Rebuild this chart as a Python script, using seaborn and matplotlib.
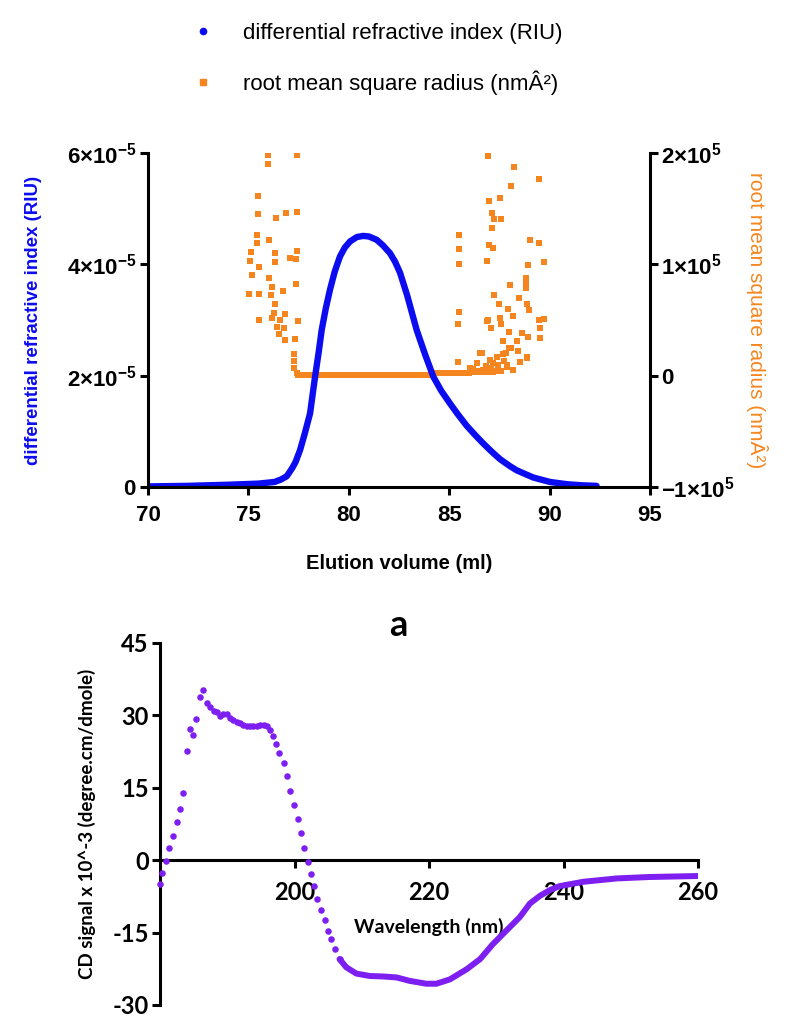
import numpy as np
import seaborn as sns
import matplotlib.pyplot as plt
from matplotlib.lines import Line2D

# panel a: SEC trace, refractive index (x1e-5 RIU)
ri_volume = [70.0, 72.0, 74.0, 75.5, 76.3, 76.6, 76.9, 77.0, 77.2, 77.35, 77.57, 77.8,
             78.07, 78.32, 78.5, 78.65, 78.85, 79.06, 79.3, 79.56, 79.8, 80.06, 80.4,
             80.72, 81.0, 81.39, 81.7, 82.05, 82.3, 82.55, 82.9, 83.38, 83.8, 84.21,
             84.6, 85.04, 85.4, 85.87, 86.3, 86.70, 87.1, 87.53, 88.0, 88.36, 88.8,
             89.19, 89.6, 90.02, 90.85, 91.6, 92.34]
ri_signal = [0.01, 0.02, 0.04, 0.06, 0.09, 0.13, 0.19, 0.24, 0.35, 0.45, 0.66, 0.95,
             1.32, 1.98, 2.42, 2.82, 3.2, 3.54, 3.87, 4.14, 4.3, 4.41, 4.49,
             4.51, 4.5, 4.44, 4.34, 4.20, 4.05, 3.85, 3.45, 2.82, 2.38, 1.98,
             1.73, 1.50, 1.32, 1.10, 0.93, 0.78, 0.64, 0.50, 0.38, 0.30, 0.23,
             0.17, 0.13, 0.09, 0.05, 0.03, 0.02]

# panel a: root mean square radius (x1e5 nm^2), scattered points + baseline
rms_volume = [75.96, 75.96, 77.44, 75.46, 75.49, 76.37, 76.87, 77.40, 75.45, 75.45, 76.04,
              75.11, 76.33, 77.40, 75.08, 75.54, 76.33, 77.07, 77.37, 75.16, 76.04, 76.19,
              75.05, 75.54, 76.11, 76.71, 77.37, 76.33, 76.25, 75.54, 76.16, 76.57, 76.82,
              77.45, 76.44, 76.78, 76.54, 76.82, 77.32, 77.27, 77.27, 77.27, 77.40,
              86.92, 88.23, 89.49, 88.06, 87.00, 87.53, 87.15, 87.25, 87.58, 87.15, 85.49,
              85.49, 85.49, 87.00, 87.16, 86.90, 89.02, 89.47, 89.72, 88.91, 88.81, 88.81,
              88.81, 88.03, 87.23, 88.46, 87.49, 88.86, 87.94, 88.19, 88.99, 85.50, 85.46,
              86.87, 87.53, 87.07, 87.58, 89.49, 89.72, 89.52, 89.52, 88.61, 88.94, 87.99,
              87.66, 88.39, 88.06, 87.83, 88.45, 88.89, 86.62, 88.53, 87.37, 87.03, 85.45,
              86.37, 87.86, 86.04, 86.70, 87.53, 86.53, 88.86, 87.70, 88.00, 86.95, 87.45,
              86.20, 86.85, 87.20, 87.75, 86.45, 87.10, 87.90, 88.20,
              77.45, 77.6, 77.8, 78.0, 78.2, 78.4, 78.6, 78.8, 79.0, 79.2, 79.4, 79.6,
              79.8, 80.0, 80.2, 80.4, 80.6, 80.8, 81.0, 81.2, 81.4, 81.6, 81.8, 82.0,
              82.2, 82.4, 82.6, 82.8, 83.0, 83.2, 83.4, 83.6, 83.8, 84.0, 84.2, 84.4,
              84.6, 84.8, 85.0, 85.2, 85.4, 85.6, 85.8, 86.0, 86.2, 86.4, 86.6, 86.8,
              87.0, 87.2, 87.4, 87.6]
rms_radius = [1.98, 1.90, 1.98, 1.61, 1.45, 1.42, 1.46, 1.47, 1.26, 1.19, 1.22,
              1.11, 1.10, 1.12, 1.03, 0.98, 1.02, 1.06, 1.05, 0.90, 0.88, 0.80,
              0.73, 0.73, 0.72, 0.76, 0.82, 0.64, 0.56, 0.50, 0.52, 0.50, 0.55,
              0.49, 0.44, 0.43, 0.37, 0.32, 0.33, 0.19, 0.13, 0.07, 0.02,
              1.97, 1.87, 1.77, 1.70, 1.57, 1.60, 1.46, 1.41, 1.41, 1.33, 1.26,
              1.14, 1.00, 1.17, 1.15, 1.03, 1.22, 1.19, 1.02, 0.99, 0.88, 0.83,
              0.79, 0.81, 0.72, 0.70, 0.64, 0.64, 0.60, 0.54, 0.59, 0.57, 0.46,
              0.49, 0.52, 0.43, 0.46, 0.50, 0.51, 0.43, 0.34, 0.38, 0.35, 0.39,
              0.31, 0.31, 0.25, 0.20, 0.22, 0.16, 0.20, 0.12, 0.17, 0.14, 0.12,
              0.11, 0.08, 0.07, 0.05, 0.04, 0.20, 0.17, 0.19, 0.25, 0.50, 0.10,
              0.06, 0.09, 0.11, 0.13, 0.04, 0.07, 0.10, 0.05,
              0.01, 0.01, 0.01, 0.01, 0.01, 0.01, 0.01, 0.01, 0.01, 0.01, 0.01, 0.01,
              0.01, 0.01, 0.01, 0.01, 0.01, 0.01, 0.01, 0.01, 0.01, 0.01, 0.01, 0.01,
              0.01, 0.01, 0.01, 0.01, 0.01, 0.01, 0.01, 0.01, 0.01, 0.01, 0.01, 0.02,
              0.02, 0.02, 0.02, 0.02, 0.02, 0.02, 0.02, 0.02, 0.03, 0.03, 0.03, 0.03,
              0.03, 0.03, 0.04, 0.04]

# panel b: CD spectrum, dotted part and dense part (x1e-3 deg cm2/dmol)
cd_dot_nm = [180.0, 180.3, 180.9, 181.4, 181.9, 182.5, 182.9, 183.4, 184.0, 184.5, 184.9,
             185.3, 185.9, 186.4, 187.0, 187.5, 188.0, 188.5, 188.9, 189.4, 189.9, 190.4,
             190.9, 191.4, 191.9, 192.4, 192.9, 193.4, 193.9, 194.4, 194.9, 195.4, 195.9,
             196.3, 196.8, 197.3, 197.7, 198.4, 198.9, 199.4, 199.9, 200.5, 201.0, 201.4,
             202.0, 202.4, 202.9, 203.4, 203.9, 204.5, 205.0, 205.5, 206.0, 206.7]
cd_dot_signal = [-4.9, -2.6, -0.2, 2.4, 5.0, 7.8, 10.6, 13.8, 22.6, 27.2, 25.8,
                 29.3, 33.7, 35.2, 32.6, 31.6, 30.9, 30.6, 29.9, 30.2, 30.2, 29.5,
                 29.0, 28.6, 28.3, 27.9, 27.8, 27.8, 27.8, 27.8, 27.9, 27.9, 27.7,
                 26.9, 25.7, 24.0, 22.2, 20.1, 17.4, 14.4, 11.5, 8.5, 5.6, 2.6,
                 -0.35, -2.8, -5.4, -8.0, -10.4, -12.5, -14.6, -16.3, -18.4, -20.5]
cd_line_nm = [206.7, 207.7, 209.2, 211.2, 213.2, 215.2, 217.1, 219.6, 221.1, 223.1, 225.6,
              227.6, 229.5, 231.5, 233.5, 235.0, 236.5, 238.0, 239.4, 242.9, 247.9, 252.8, 260.0]
cd_line_signal = [-20.5, -22.2, -23.5, -24.0, -24.1, -24.3, -25.0, -25.6, -25.6, -24.7, -22.6,
                  -20.5, -17.4, -14.6, -11.8, -9.0, -7.4, -6.2, -5.4, -4.5, -3.8, -3.5, -3.3]

blue = '#0c0cf0'
orange = '#f5861f'
purple = '#7c1ff0'

sns.set_theme(style='ticks')
plt.rcParams['font.family'] = ['Liberation Sans', 'DejaVu Sans']
plt.rcParams['mathtext.fontset'] = 'custom'
plt.rcParams['mathtext.rm'] = 'Liberation Sans'
plt.rcParams['mathtext.bf'] = 'Liberation Sans:bold'
plt.rcParams['axes.unicode_minus'] = False
plt.rcParams['text.color'] = 'black'
plt.rcParams['axes.labelcolor'] = 'black'

fig = plt.figure(figsize=(8, 10.35), dpi=100)

# ---- panel a ----
ax1 = fig.add_axes([0.185, 0.5295, 0.6275, 0.3227])
ax2 = ax1.twinx()
sns.scatterplot(x=rms_volume, y=np.array(rms_radius) * 1e5, ax=ax2, marker='s',
                s=20, color=orange, linewidth=0)
sns.lineplot(x=ri_volume, y=np.array(ri_signal) * 1e-5, ax=ax1, color=blue, linewidth=4.6,
             solid_joinstyle='round', solid_capstyle='round')
ax1.set_zorder(ax2.get_zorder() + 1)
ax1.patch.set_visible(False)

ax1.set_xlim(70, 95)
ax1.set_ylim(0, 6e-5)
ax2.set_ylim(-1e5, 2e5)
ax1.set_xticks(range(70, 96, 5))
ax1.set_xticklabels([str(v) for v in range(70, 96, 5)], fontweight='bold')
ax1.set_yticks([0, 2e-5, 4e-5, 6e-5])
ax1.set_yticklabels(['$\\mathbf{0}$', '$\\mathbf{2{\\times}10^{-5}}$',
                     '$\\mathbf{4{\\times}10^{-5}}$', '$\\mathbf{6{\\times}10^{-5}}$'])
ax2.set_yticks([-1e5, 0, 1e5, 2e5])
ax2.set_yticklabels(['$\\mathbf{-1{\\times}10^{5}}$', '$\\mathbf{0}$',
                     '$\\mathbf{1{\\times}10^{5}}$', '$\\mathbf{2{\\times}10^{5}}$'])

for ax in (ax1, ax2):
    ax.spines['top'].set_visible(False)
    for sp in ax.spines.values():
        sp.set_linewidth(2.2)
        sp.set_color('black')
    ax.tick_params(direction='out', length=6, width=2.2, labelsize=16, pad=2, colors='black')
ax1.tick_params(axis='x', pad=7)
ax1.spines['right'].set_visible(False)
ax2.spines['left'].set_visible(False)
ax2.spines['bottom'].set_visible(False)

ax1.set_xlabel('Elution volume (ml)', fontweight='bold', fontsize=14.5, labelpad=20)
ax1.set_ylabel('differential refractive index (RIU)', color=blue, fontweight='bold',
               fontsize=13.5, labelpad=18)
ax2.set_ylabel('root mean square radius (nmÂ²)', color=orange, fontsize=15,
               rotation=270, labelpad=24)

handles = [Line2D([], [], ls='', marker='o', ms=4.5, color=blue),
           Line2D([], [], ls='', marker='s', ms=5, color=orange)]
fig.legend(handles, ['differential refractive index (RIU)', 'root mean square radius (nmÂ²)'],
           loc='upper left', bbox_to_anchor=(0.212, 0.997), frameon=False, fontsize=16,
           labelspacing=1.2, handletextpad=1.2, handlelength=1.2)

fig.text(0.4975, 1 - 625 / 1035, 'a', ha='center', va='center', fontsize=26,
         fontweight='bold', family='Lato')

# ---- panel b ----
ax3 = fig.add_axes([0.2, 0.029, 0.6725, 0.35])
sns.scatterplot(x=cd_dot_nm, y=cd_dot_signal, ax=ax3, color=purple, s=22, linewidth=0,
                zorder=3, clip_on=False)
sns.lineplot(x=cd_line_nm, y=cd_line_signal, ax=ax3, color=purple, linewidth=4.3, zorder=3,
             solid_joinstyle='round')
ax3.set_xlim(180, 260)
ax3.set_ylim(-30, 45)
ax3.set_xticks([200, 220, 240, 260])
ax3.set_yticks(range(-30, 46, 15))
ax3.spines['top'].set_visible(False)
ax3.spines['right'].set_visible(False)
ax3.spines['bottom'].set_position(('data', 0))
for sp in ax3.spines.values():
    sp.set_linewidth(2.2)
    sp.set_color('black')
ax3.tick_params(direction='out', length=6, width=2.2, labelsize=17, pad=2, colors='black')
ax3.tick_params(axis='x', pad=9)
for lab in ax3.get_xticklabels() + ax3.get_yticklabels():
    lab.set_fontweight('bold')
    lab.set_family('Lato')
ax3.set_xlabel('Wavelength (nm)', fontweight='bold', fontsize=14, family='Lato', labelpad=10)
ax3.set_ylabel('CD signal x 10^-3 (degree.cm/dmole)', fontweight='bold', fontsize=13.5,
               family='Lato', labelpad=12)

fig.savefig('out.png', dpi=100)
